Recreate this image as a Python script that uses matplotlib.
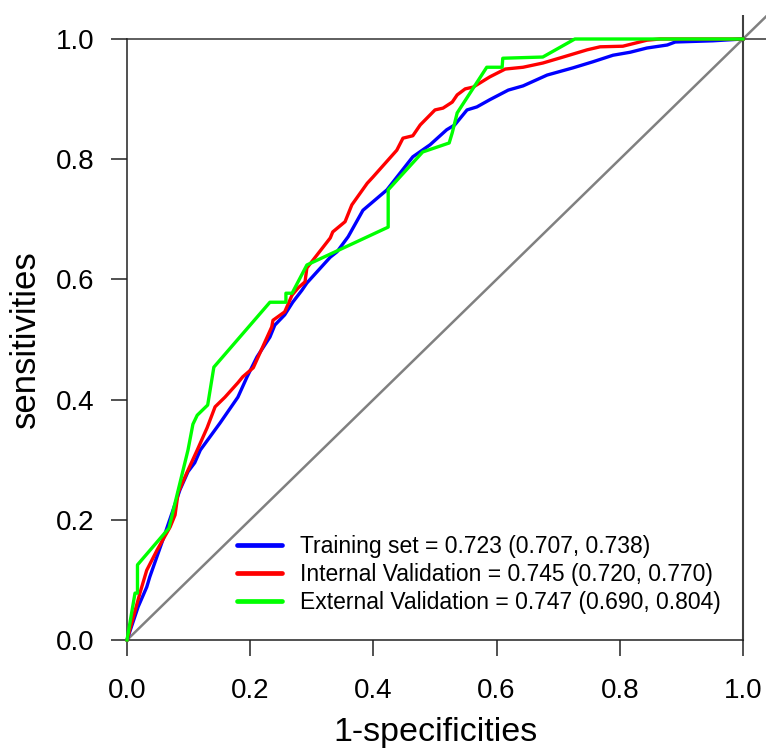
import numpy as np
import matplotlib
matplotlib.use("Agg")
import matplotlib.pyplot as plt

plt.rcParams['font.family'] = ['Liberation Sans', 'DejaVu Sans']

# ROC points (1-specificity, sensitivity)
train_fpr = [0.0, 0.018, 0.032, 0.037, 0.058, 0.073, 0.086, 0.099, 0.110, 0.119,
             0.151, 0.180, 0.195, 0.211, 0.232, 0.240, 0.256, 0.269, 0.284, 0.292,
             0.330, 0.341, 0.359, 0.383, 0.422, 0.438, 0.464, 0.492, 0.519, 0.532,
             0.552, 0.568, 0.589, 0.619, 0.643, 0.682, 0.724, 0.756, 0.789, 0.817,
             0.844, 0.877, 0.890, 0.951, 1.0]
train_tpr = [0.0, 0.055, 0.088, 0.105, 0.166, 0.211, 0.250, 0.280, 0.295, 0.316,
             0.361, 0.404, 0.438, 0.471, 0.504, 0.524, 0.541, 0.562, 0.582, 0.594,
             0.637, 0.646, 0.671, 0.715, 0.749, 0.770, 0.804, 0.824, 0.849, 0.857,
             0.882, 0.887, 0.899, 0.915, 0.922, 0.940, 0.952, 0.962, 0.973, 0.978,
             0.985, 0.990, 0.995, 0.997, 1.0]

int_fpr = [0.0, 0.021, 0.032, 0.049, 0.070, 0.078, 0.083, 0.097, 0.114, 0.130,
           0.143, 0.159, 0.180, 0.188, 0.205, 0.235, 0.237, 0.256, 0.268, 0.278,
           0.289, 0.292, 0.330, 0.334, 0.354, 0.365, 0.390, 0.399, 0.438, 0.448,
           0.464, 0.476, 0.500, 0.513, 0.528, 0.536, 0.549, 0.562, 0.589, 0.614,
           0.643, 0.675, 0.708, 0.747, 0.768, 0.805, 0.844, 0.865, 1.0]
int_tpr = [0.0, 0.078, 0.116, 0.150, 0.188, 0.208, 0.245, 0.278, 0.316, 0.353,
           0.388, 0.404, 0.428, 0.438, 0.453, 0.521, 0.532, 0.546, 0.574, 0.586,
           0.596, 0.619, 0.669, 0.679, 0.696, 0.724, 0.760, 0.770, 0.815, 0.835,
           0.839, 0.857, 0.882, 0.885, 0.895, 0.907, 0.917, 0.920, 0.937, 0.950,
           0.953, 0.960, 0.970, 0.982, 0.987, 0.988, 0.998, 1.0, 1.0]

ext_fpr = [0.0, 0.013, 0.017, 0.017, 0.068, 0.099, 0.107, 0.114, 0.131, 0.141,
           0.232, 0.258, 0.258, 0.268, 0.292, 0.424, 0.424, 0.480, 0.523, 0.528,
           0.536, 0.584, 0.609, 0.610, 0.675, 0.727, 1.0]
ext_tpr = [0.0, 0.078, 0.078, 0.125, 0.186, 0.316, 0.359, 0.374, 0.391, 0.454,
           0.562, 0.562, 0.577, 0.577, 0.624, 0.687, 0.749, 0.812, 0.827, 0.844,
           0.877, 0.953, 0.953, 0.968, 0.970, 1.0, 1.0]

labels = ["Training set = 0.723 (0.707, 0.738)",
          "Internal Validation = 0.745 (0.720, 0.770)",
          "External Validation = 0.747 (0.690, 0.804)"]
colors = ["#0000ff", "#ff0000", "#00ff00"]

W, H = 766, 753
fig = plt.figure(figsize=(W / 100, H / 100), dpi=100)
# plot region spans R-style usr (-0.04, 1.04)
x0, x1 = 127, 743
y0, y1 = 640, 39
ux = (x1 - x0) / 1.0
uy = (y0 - y1) / 1.0
left = (x0 - 0.04 * ux) / W
bottom = (H - (y0 + 0.04 * uy)) / H
ax = fig.add_axes([left, bottom, 1.08 * ux / W, 1.08 * uy / H])
ax.set_xlim(-0.04, 1.04)
ax.set_ylim(-0.04, 1.04)

for s in ['top', 'right']:
    ax.spines[s].set_visible(False)
for s in ['left', 'bottom']:
    ax.spines[s].set_position(('data', 0))
    ax.spines[s].set_bounds(0, 1)
    ax.spines[s].set_linewidth(1.1)
    ax.spines[s].set_color('#222222')

ticks = [0.0, 0.2, 0.4, 0.6, 0.8, 1.0]
ax.set_xticks(ticks)
ax.set_yticks(ticks)
ax.set_xticklabels([f"{t:.1f}" for t in ticks])
ax.set_yticklabels([f"{t:.1f}" for t in ticks])
ax.tick_params(direction='out', length=11.5, width=1.1, color='#222222',
               labelsize=20, pad=12)
ax.tick_params(axis='x', pad=15.5)

# reference lines
ax.plot([0, 1.1], [0, 1.1], color='#808080', lw=1.8, zorder=1)
ax.plot([0, 1.1], [1, 1], color='#333333', lw=1.1, zorder=1)
ax.plot([1, 1], [0, 1.1], color='#404040', lw=1.5, zorder=1)

ax.plot(train_fpr, train_tpr, color=colors[0], lw=2.4, label=labels[0], zorder=3)
ax.plot(int_fpr, int_tpr, color=colors[1], lw=2.4, label=labels[1], zorder=3)
ax.plot(ext_fpr, ext_tpr, color=colors[2], lw=2.4, label=labels[2], zorder=3)

ax.set_xlabel("1-specificities", fontsize=24.5, labelpad=10)
ax.set_ylabel("sensitivities", fontsize=25, labelpad=10)

leg = ax.legend(loc='lower left', bbox_to_anchor=(237 / W, 1 - 614 / H),
                bbox_transform=fig.transFigure, frameon=False, fontsize=16.5,
                handlelength=1.95, handletextpad=0.8, labelspacing=0.22,
                borderaxespad=0, borderpad=0)
for h in leg.get_lines():
    h.set_linewidth(3.4)
    h.set_solid_capstyle('round')

fig.savefig("out.png", dpi=100)
